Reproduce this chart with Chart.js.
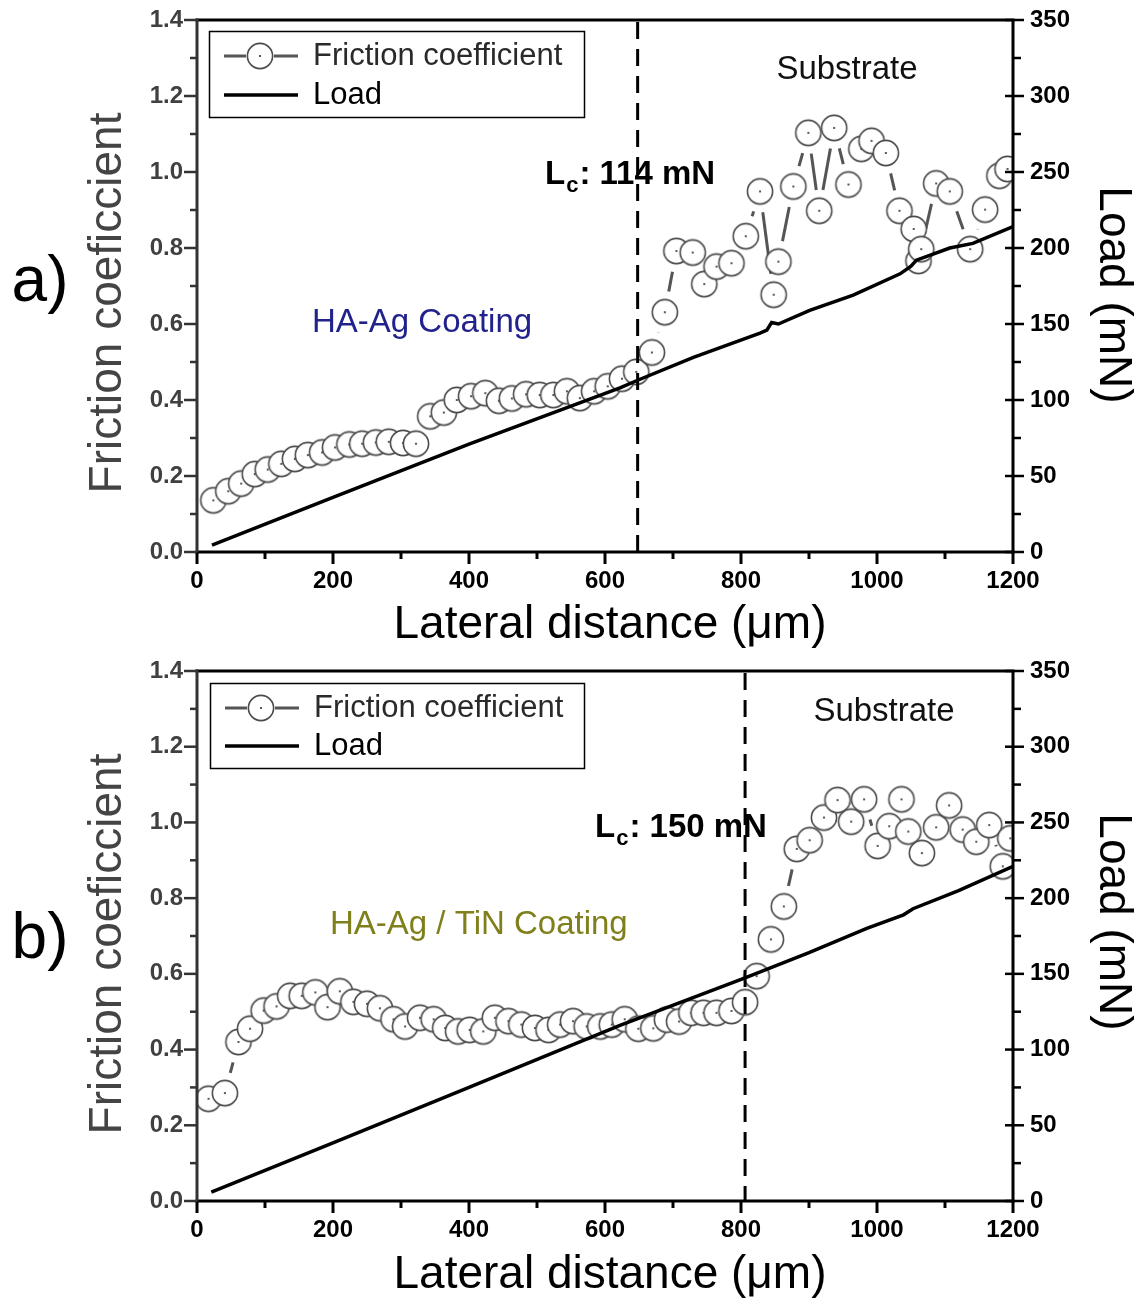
<!DOCTYPE html>
<html><head><meta charset="utf-8">
<script src="https://cdn.jsdelivr.net/npm/chart.js@4.4.0/dist/chart.umd.min.js"></script>
<style>
html,body{margin:0;padding:0;background:#fff;}
canvas{display:block;}
</style></head><body>
<canvas id="c1" width="1142" height="651"></canvas>
<canvas id="c2" width="1142" height="652"></canvas>
<script>
// ---------- DATA ----------
// (a) HA-Ag coating
const fricA_x = [24,46,65,85,104,124,144,163,184,203,224,243,263,282,303,322,
  343,363,382,403,424,444,463,484,504,524,544,563,584,604,625,646,
  669,688,705,729,746,764,786,807,828,848,855,877,899,915,937,958,977,992,1013,1033,1054,1061,1065,1087,1107,1137,1159,1180,1192];
const fricA_y = [0.136,0.160,0.180,0.205,0.217,0.232,0.245,0.255,0.262,0.275,0.283,0.285,0.288,0.290,0.287,0.285,
  0.357,0.367,0.400,0.410,0.418,0.398,0.404,0.415,0.413,0.413,0.423,0.405,0.423,0.436,0.456,0.474,
  0.525,0.631,0.792,0.788,0.705,0.751,0.760,0.831,0.949,0.677,0.764,0.962,1.103,0.898,1.116,0.967,1.061,1.082,1.050,0.898,0.850,0.766,0.797,0.970,0.949,0.797,0.901,0.990,1.008];
const loadA_x = [22,200,400,622,648,730,828,838,845,855,901,965,1034,1050,1058,1107,1141,1200];
const loadA_y = [4.5,36,71,108,113,128,144,146,151,150,159,169,183,188,192,200,203,214];
const critA_x = 648;

// (b) HA-Ag / TiN coating
const fricB_x = [17,41,61,78,98,117,137,154,174,192,210,230,250,269,289,306,328,348,365,384,401,421,438,458,477,497,517,534,553,573,593,610,629,649,
  671,691,709,727,745,764,786,806,823,844,863,882,901,922,942,962,981,1001,1018,1036,1046,1066,1087,1106,1126,1146,1165,1185,1196];
const fricB_y = [0.270,0.285,0.420,0.455,0.503,0.514,0.542,0.542,0.551,0.512,0.554,0.526,0.521,0.509,0.480,0.461,0.484,0.480,0.457,0.448,0.452,0.448,0.484,0.475,0.466,0.457,0.452,0.466,0.475,0.461,0.461,0.466,0.480,0.455,
  0.456,0.479,0.474,0.497,0.497,0.497,0.502,0.525,0.594,0.691,0.778,0.930,0.953,1.013,1.059,1.002,1.061,0.938,0.990,1.061,0.976,0.919,0.987,1.045,0.981,0.949,0.993,0.884,0.958];
const loadB_x = [21,200,400,622,806,900,985,1039,1053,1120,1200];
const loadB_y = [5.8,38.4,75,116,147.4,164,180,189,193,205,221];
const critB_x = 806;

const xTicksMajor = 200, xMin = 0, xMax = 1200;
const yMin = 0, yMax = 1.4;
const y2Min = 0, y2Max = 350;

// ---------- STYLE ----------
const FONT = '"Liberation Sans", Arial, Helvetica, sans-serif';
Chart.defaults.font.family = FONT;

function makeMarker(){
  const c = document.createElement('canvas'); c.width = 30; c.height = 30;
  const g = c.getContext('2d');
  g.beginPath(); g.arc(15,15,12.6,0,Math.PI*2); g.fillStyle='#fff'; g.fill();
  g.lineWidth=1.6; g.strokeStyle='#4a4a4a'; g.stroke();
  g.beginPath(); g.arc(15,15,1.1,0,Math.PI*2); g.fillStyle='#333'; g.fill();
  return c;
}
const MARKER = makeMarker();

function pts(xs, ys){ return xs.map((x,i)=>({x:x, y:ys[i]})); }

function text(ctx, s, x, y, font, color, align, rot){
  ctx.save();
  ctx.translate(x,y);
  if (rot) ctx.rotate(rot);
  ctx.font = font; ctx.fillStyle = color; ctx.textAlign = align || 'left'; ctx.textBaseline = 'middle';
  ctx.fillText(s, 0, 0);
  ctx.restore();
}
function seg(ctx,x1,y1,x2,y2){ ctx.beginPath(); ctx.moveTo(x1,y1); ctx.lineTo(x2,y2); ctx.stroke(); }

const gapLinePlugin = {
  id: 'gapLine',
  beforeDatasetsDraw(chart){
    const meta = chart.getDatasetMeta(1);
    const p = meta.data, ctx = chart.ctx, ca = chart.chartArea;
    const GAP = 21;
    ctx.save();
    ctx.beginPath(); ctx.rect(ca.left, ca.top, ca.right-ca.left, ca.bottom-ca.top); ctx.clip();
    ctx.strokeStyle = '#555'; ctx.lineWidth = 3;
    for (let i=0;i<p.length-1;i++){
      const a=p[i], b=p[i+1];
      const dx=b.x-a.x, dy=b.y-a.y, d=Math.hypot(dx,dy);
      if (d <= 2*GAP) continue;
      const ux=dx/d, uy=dy/d;
      seg(ctx, a.x+ux*GAP, a.y+uy*GAP, b.x-ux*GAP, b.y-uy*GAP);
    }
    ctx.restore();
  }
};

const decoPlugin = {
  id: 'deco',
  afterDatasetsDraw(chart){
    const o = chart.options.plugins.deco, ctx = chart.ctx, ca = chart.chartArea;
    const sx = chart.scales.x;
    const px = sx.getPixelForValue(o.crit);
    ctx.save(); ctx.strokeStyle='#000'; ctx.lineWidth=3; ctx.setLineDash([17,10]);
    seg(ctx, px, ca.top+2, px, ca.bottom);
    ctx.restore();
  },
  afterDraw(chart){
    const o = chart.options.plugins.deco, ctx = chart.ctx, ca = chart.chartArea;
    const sx = chart.scales.x, sy = chart.scales.y, sy2 = chart.scales.y2;
    ctx.save();
    ctx.lineCap = 'butt';
    ctx.lineWidth = 3;
    ctx.strokeStyle = '#000';
    seg(ctx, ca.left-1.5, ca.top, ca.right+1.5, ca.top);
    seg(ctx, ca.left-1.5, ca.bottom, ca.right+1.5, ca.bottom);
    seg(ctx, ca.right, ca.top, ca.right, ca.bottom+1.5);
    ctx.strokeStyle = '#333';
    seg(ctx, ca.left, ca.top-1.5, ca.left, ca.bottom+1.5);
    ctx.strokeStyle = '#000'; ctx.lineWidth = 3;
    for (const t of sx.ticks){
      const p = sx.getPixelForValue(t.value);
      const major = Math.round(t.value) % xTicksMajor === 0;
      seg(ctx, p, ca.bottom, p, ca.bottom + (major ? 12 : 7));
    }
    ctx.strokeStyle = '#333'; ctx.lineWidth = 2.5;
    for (const t of sy.ticks){
      const p = sy.getPixelForValue(t.value);
      const major = Math.round(t.value*10) % 2 === 0;
      seg(ctx, ca.left - (major ? 13 : 7), p, ca.left, p);
    }
    ctx.strokeStyle = '#000'; ctx.lineWidth = 2.5;
    for (const t of sy2.ticks){
      const p = sy2.getPixelForValue(t.value);
      const major = Math.round(t.value) % 50 === 0;
      if (major) seg(ctx, ca.right - 8, p, ca.right + 11, p);
      else seg(ctx, ca.right, p, ca.right + 8, p);
    }
    ctx.restore();

    const L = o.legend;
    ctx.save();
    ctx.lineWidth = 1.5; ctx.strokeStyle = '#000';
    ctx.strokeRect(L.x+0.5, L.y+0.5, L.w, L.h);
    const r1 = L.y + 25, r2 = L.y + L.h - 22;
    ctx.strokeStyle = '#555'; ctx.lineWidth = 3;
    seg(ctx, L.x+15, r1, L.x+37, r1); seg(ctx, L.x+65, r1, L.x+89, r1);
    ctx.drawImage(MARKER, L.x+51-15, r1-15);
    ctx.strokeStyle = '#000'; ctx.lineWidth = 3.5;
    seg(ctx, L.x+15, r2, L.x+89, r2);
    ctx.restore();
    text(ctx, 'Friction coefficient', L.x+104, r1, '31px '+FONT, '#2a2a2a');
    text(ctx, 'Load', L.x+104, r2, '31px '+FONT, '#000');

    text(ctx, 'Substrate', o.substrate[0], o.substrate[1], '33px '+FONT, '#111', 'center');
    text(ctx, o.coating, o.coatPos[0], o.coatPos[1], '33px '+FONT, o.coatColor, 'left');
    ctx.save();
    ctx.font = 'bold 33px '+FONT; ctx.fillStyle='#000'; ctx.textBaseline='middle'; ctx.textAlign='left';
    let x0 = o.lc[0], y0 = o.lc[1];
    ctx.fillText('L', x0, y0);
    let w = ctx.measureText('L').width;
    ctx.font = 'bold 22px '+FONT;
    ctx.fillText('c', x0 + w + 1, y0 + 11);
    const wc = ctx.measureText('c').width;
    ctx.font = 'bold 33px '+FONT;
    ctx.fillText(': ' + o.lcText, x0 + w + wc + 2, y0);
    ctx.restore();

    text(ctx, o.panel, o.panelPos[0], o.panelPos[1], '64px '+FONT, '#000', 'center');
    text(ctx, 'Friction coeficcient', o.leftTitle[0], o.leftTitle[1], '46px '+FONT, '#444', 'center', -Math.PI/2);
    text(ctx, 'Load (mN)', o.rightTitle[0], o.rightTitle[1], '46px '+FONT, '#000', 'center', Math.PI/2);
    text(ctx, 'Lateral distance (\u03bcm)', o.xTitle[0], o.xTitle[1], '46px '+FONT, '#000', 'center');
  }
};

function build(canvasId, cfg){
  const H = document.getElementById(canvasId).height;
  const plotTop = 20;
  const noPadV = s => { s.paddingTop = 0; s.paddingBottom = 0; };
  return new Chart(document.getElementById(canvasId), {
    type: 'line',
    data: {
      datasets: [
        { label: 'Load', data: pts(cfg.lx, cfg.ly), yAxisID: 'y2', borderColor: '#000', borderWidth: 3.5,
          pointRadius: 0, tension: 0, fill: false, order: 0 },
        { label: 'Friction coefficient', data: pts(cfg.fx, cfg.fy), yAxisID: 'y', showLine: false,
          pointStyle: MARKER, pointRadius: 13, pointHoverRadius: 13, order: 1 }
      ]
    },
    options: {
      responsive: false, animation: false,
      layout: { padding: { top: plotTop, left: 0, right: 0, bottom: 0 } },
      scales: {
        x: { type: 'linear', position: 'bottom', min: xMin, max: xMax,
          grid: { display: false, drawTicks: false }, border: { display: false },
          ticks: { stepSize: 100, autoSkip: false, maxRotation: 0, padding: 15, color: '#000',
            font: { size: 24, weight: 'bold' },
            callback: v => (Math.round(v) % xTicksMajor === 0 ? String(Math.round(v)) : '') },
          afterFit: s => { s.height = H - plotTop - cfg.plotH; s.paddingLeft = 0; s.paddingRight = 0; } },
        y: { type: 'linear', position: 'left', min: yMin, max: yMax,
          grid: { display: false, drawTicks: false }, border: { display: false },
          ticks: { stepSize: 0.1, autoSkip: false, padding: 14, color: '#404040',
            font: { size: 24, weight: 'bold' },
            callback: v => (Math.round(v*10) % 2 === 0 ? (Math.round(v*10)/10).toFixed(1) : '') },
          afterFit: s => { s.width = 197; noPadV(s); } },
        y2: { type: 'linear', position: 'right', min: y2Min, max: y2Max,
          grid: { display: false, drawTicks: false }, border: { display: false },
          ticks: { stepSize: 25, autoSkip: false, padding: 17, color: '#000',
            font: { size: 24, weight: 'bold' },
            callback: v => (Math.round(v) % 50 === 0 ? String(Math.round(v)) : '') },
          afterFit: s => { s.width = 1142 - 1013; noPadV(s); } }
      },
      plugins: {
        legend: { display: false }, tooltip: { enabled: false },
        deco: cfg.deco
      }
    },
    plugins: [gapLinePlugin, decoPlugin]
  });
}

build('c1', {
  fx: fricA_x, fy: fricA_y, lx: loadA_x, ly: loadA_y, plotH: 532,
  deco: { crit: critA_x, lcText: '114 mN', coating: 'HA-Ag Coating', coatColor: '#22228c', panel: 'a)',
    legend: { x: 209, y: 31, w: 375, h: 86 },
    substrate: [847, 70], lc: [545, 175], coatPos: [312, 323], panelPos: [40, 283],
    leftTitle: [108, 303], rightTitle: [1113, 295], xTitle: [610, 625] }
});
build('c2', {
  fx: fricB_x, fy: fricB_y, lx: loadB_x, ly: loadB_y, plotH: 530,
  deco: { crit: critB_x, lcText: '150 mN', coating: 'HA-Ag / TiN Coating', coatColor: '#7f7f1c', panel: 'b)',
    legend: { x: 210, y: 32, w: 374, h: 85 },
    substrate: [884, 61], lc: [595, 177], coatPos: [330, 274], panelPos: [40, 289],
    leftTitle: [108, 293], rightTitle: [1113, 271], xTitle: [610, 624] }
});
</script>
</body></html>
